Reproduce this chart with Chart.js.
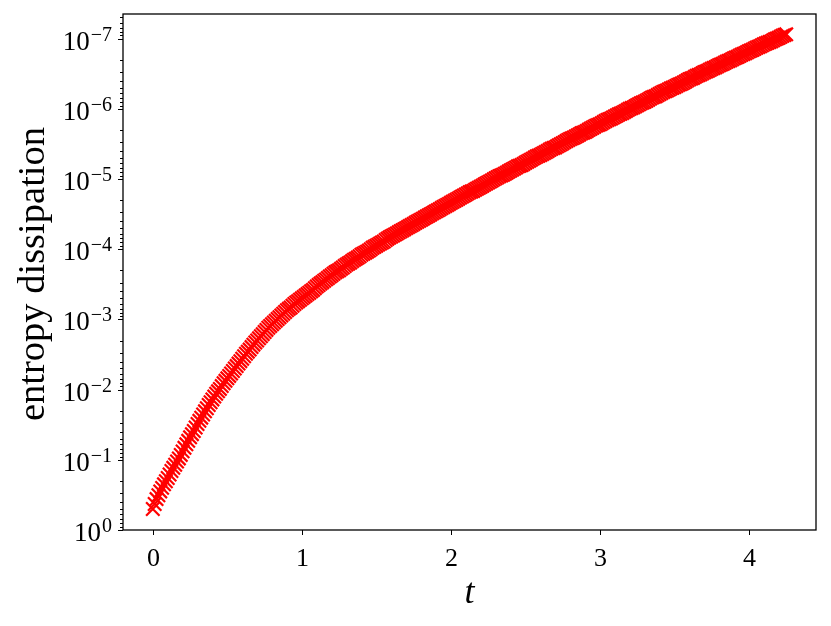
<!DOCTYPE html>
<html>
<head>
<meta charset="utf-8">
<script src="https://cdn.jsdelivr.net/npm/chart.js@4"></script>
<style>
  html, body { margin: 0; padding: 0; background: #fff; }
  #wrap { width: 831px; height: 626px; }
</style>
</head>
<body>
<div id="wrap"><canvas id="chart"></canvas></div>
<script>
// time values
const times = [
  0, 0.0125, 0.025, 0.0375, 0.05, 0.0625, 0.075, 0.0875, 0.1, 0.1125, 0.125, 0.1375, 0.15, 0.1625, 0.175, 0.1875,
  0.2, 0.2125, 0.225, 0.2375, 0.25, 0.2625, 0.275, 0.2875, 0.3, 0.3125, 0.325, 0.3375, 0.35, 0.3625, 0.375, 0.3875,
  0.4, 0.4125, 0.425, 0.4375, 0.45, 0.4625, 0.475, 0.4875, 0.5, 0.5125, 0.525, 0.5375, 0.55, 0.5625, 0.575, 0.5875,
  0.6, 0.6125, 0.625, 0.6375, 0.65, 0.6625, 0.675, 0.6875, 0.7, 0.7125, 0.725, 0.7375, 0.75, 0.7625, 0.775, 0.7875,
  0.8, 0.8125, 0.825, 0.8375, 0.85, 0.8625, 0.875, 0.8875, 0.9, 0.9125, 0.925, 0.9375, 0.95, 0.9625, 0.975, 0.9875,
  1, 1.0125, 1.025, 1.0375, 1.05, 1.0625, 1.075, 1.0875, 1.1, 1.1125, 1.125, 1.1375, 1.15, 1.1625, 1.175, 1.1875,
  1.2, 1.2125, 1.225, 1.2375, 1.25, 1.2625, 1.275, 1.2875, 1.3, 1.3125, 1.325, 1.3375, 1.35, 1.3625, 1.375, 1.3875,
  1.4, 1.4125, 1.425, 1.4375, 1.45, 1.4625, 1.475, 1.4875, 1.5, 1.5125, 1.525, 1.5375, 1.55, 1.5625, 1.575, 1.5875,
  1.6, 1.6125, 1.625, 1.6375, 1.65, 1.6625, 1.675, 1.6875, 1.7, 1.7125, 1.725, 1.7375, 1.75, 1.7625, 1.775, 1.7875,
  1.8, 1.8125, 1.825, 1.8375, 1.85, 1.8625, 1.875, 1.8875, 1.9, 1.9125, 1.925, 1.9375, 1.95, 1.9625, 1.975, 1.9875,
  2, 2.0125, 2.025, 2.0375, 2.05, 2.0625, 2.075, 2.0875, 2.1, 2.1125, 2.125, 2.1375, 2.15, 2.1625, 2.175, 2.1875,
  2.2, 2.2125, 2.225, 2.2375, 2.25, 2.2625, 2.275, 2.2875, 2.3, 2.3125, 2.325, 2.3375, 2.35, 2.3625, 2.375, 2.3875,
  2.4, 2.4125, 2.425, 2.4375, 2.45, 2.4625, 2.475, 2.4875, 2.5, 2.5125, 2.525, 2.5375, 2.55, 2.5625, 2.575, 2.5875,
  2.6, 2.6125, 2.625, 2.6375, 2.65, 2.6625, 2.675, 2.6875, 2.7, 2.7125, 2.725, 2.7375, 2.75, 2.7625, 2.775, 2.7875,
  2.8, 2.8125, 2.825, 2.8375, 2.85, 2.8625, 2.875, 2.8875, 2.9, 2.9125, 2.925, 2.9375, 2.95, 2.9625, 2.975, 2.9875,
  3, 3.0125, 3.025, 3.0375, 3.05, 3.0625, 3.075, 3.0875, 3.1, 3.1125, 3.125, 3.1375, 3.15, 3.1625, 3.175, 3.1875,
  3.2, 3.2125, 3.225, 3.2375, 3.25, 3.2625, 3.275, 3.2875, 3.3, 3.3125, 3.325, 3.3375, 3.35, 3.3625, 3.375, 3.3875,
  3.4, 3.4125, 3.425, 3.4375, 3.45, 3.4625, 3.475, 3.4875, 3.5, 3.5125, 3.525, 3.5375, 3.55, 3.5625, 3.575, 3.5875,
  3.6, 3.6125, 3.625, 3.6375, 3.65, 3.6625, 3.675, 3.6875, 3.7, 3.7125, 3.725, 3.7375, 3.75, 3.7625, 3.775, 3.7875,
  3.8, 3.8125, 3.825, 3.8375, 3.85, 3.8625, 3.875, 3.8875, 3.9, 3.9125, 3.925, 3.9375, 3.95, 3.9625, 3.975, 3.9875,
  4, 4.0125, 4.025, 4.0375, 4.05, 4.0625, 4.075, 4.0875, 4.1, 4.1125, 4.125, 4.1375, 4.15, 4.1625, 4.175, 4.1875,
  4.2, 4.2125, 4.225, 4.2375, 4.25
];

// log10 of the entropy dissipation
const log10Dissipation = [
  -0.30, -0.37, -0.44, -0.495, -0.55, -0.60, -0.65, -0.695, -0.74, -0.79, -0.84, -0.885, -0.93, -0.975, -1.02, -1.07,
  -1.12, -1.17, -1.22, -1.27, -1.32, -1.365, -1.41, -1.46, -1.51, -1.555, -1.60, -1.645, -1.69, -1.735, -1.78, -1.82,
  -1.86, -1.90, -1.94, -1.975, -2.01, -2.05, -2.09, -2.125, -2.16, -2.195, -2.23, -2.265, -2.30, -2.335, -2.37, -2.405,
  -2.44, -2.475, -2.51, -2.54, -2.57, -2.605, -2.64, -2.67, -2.70, -2.73, -2.76, -2.79, -2.82, -2.85, -2.88, -2.905,
  -2.93, -2.955, -2.98, -3.005, -3.03, -3.055, -3.08, -3.105, -3.13, -3.15, -3.17, -3.195, -3.22, -3.24, -3.26, -3.28,
  -3.30, -3.32, -3.34, -3.36, -3.38, -3.40, -3.42, -3.445, -3.47, -3.49, -3.51, -3.53, -3.55, -3.57, -3.59, -3.61,
  -3.63, -3.65, -3.67, -3.685, -3.70, -3.72, -3.74, -3.76, -3.78, -3.795, -3.81, -3.83, -3.85, -3.865, -3.88, -3.90,
  -3.92, -3.935, -3.95, -3.965, -3.98, -4.00, -4.02, -4.035, -4.05, -4.065, -4.08, -4.095, -4.11, -4.13, -4.15, -4.165,
  -4.18, -4.195, -4.21, -4.225, -4.24, -4.255, -4.27, -4.285, -4.30, -4.315, -4.33, -4.345, -4.36, -4.375, -4.39, -4.405,
  -4.42, -4.435, -4.45, -4.465, -4.48, -4.495, -4.51, -4.525, -4.54, -4.555, -4.57, -4.585, -4.60, -4.615, -4.63, -4.645,
  -4.66, -4.675, -4.69, -4.705, -4.72, -4.735, -4.75, -4.765, -4.78, -4.795, -4.81, -4.82, -4.83, -4.845, -4.86, -4.875,
  -4.89, -4.905, -4.92, -4.935, -4.95, -4.965, -4.98, -4.995, -5.01, -5.025, -5.04, -5.05, -5.06, -5.075, -5.09, -5.105,
  -5.12, -5.135, -5.15, -5.165, -5.18, -5.19, -5.20, -5.215, -5.23, -5.245, -5.26, -5.275, -5.29, -5.305, -5.32, -5.33,
  -5.34, -5.355, -5.37, -5.385, -5.40, -5.415, -5.43, -5.44, -5.45, -5.465, -5.48, -5.495, -5.51, -5.525, -5.54, -5.555,
  -5.57, -5.58, -5.59, -5.605, -5.62, -5.635, -5.65, -5.66, -5.67, -5.685, -5.70, -5.715, -5.73, -5.745, -5.76, -5.77,
  -5.78, -5.795, -5.81, -5.825, -5.84, -5.85, -5.86, -5.875, -5.89, -5.905, -5.92, -5.93, -5.94, -5.955, -5.97, -5.985,
  -6.00, -6.01, -6.02, -6.035, -6.05, -6.065, -6.08, -6.09, -6.10, -6.115, -6.13, -6.145, -6.16, -6.17, -6.18, -6.195,
  -6.21, -6.225, -6.24, -6.25, -6.26, -6.275, -6.29, -6.30, -6.31, -6.325, -6.34, -6.35, -6.36, -6.375, -6.39, -6.405,
  -6.42, -6.43, -6.44, -6.455, -6.47, -6.48, -6.49, -6.505, -6.52, -6.53, -6.54, -6.555, -6.57, -6.58, -6.59, -6.605,
  -6.62, -6.63, -6.64, -6.655, -6.67, -6.68, -6.69, -6.705, -6.72, -6.73, -6.74, -6.755, -6.77, -6.78, -6.79, -6.805,
  -6.82, -6.83, -6.84, -6.855, -6.87, -6.88, -6.89, -6.905, -6.92, -6.93, -6.94, -6.95, -6.96, -6.975, -6.99, -7.00,
  -7.01, -7.025, -7.04, -7.05, -7.06
];

const xTicks = [0, 1, 2, 3, 4];
const yExponents = [0, -1, -2, -3, -4, -5, -6, -7];

const points = times.map((t, i) => ({ x: t, y: Math.pow(10, log10Dissipation[i]) }));

const SERIF = '"Liberation Serif", "DejaVu Serif", serif';

// axes, ticks and labels drawn by hand, matplotlib style
const axesPlugin = {
  id: 'mplAxes',
  afterDraw(chart) {
    const ctx = chart.ctx;
    const a = chart.chartArea;
    const xs = chart.scales.x, ys = chart.scales.y;
    ctx.save();
    ctx.strokeStyle = '#000';
    ctx.fillStyle = '#000';

    // frame
    ctx.lineWidth = 1.3;
    ctx.strokeRect(a.left, a.top, a.right - a.left, a.bottom - a.top);

    // x ticks
    ctx.lineWidth = 1;
    ctx.font = '26px ' + SERIF;
    ctx.textAlign = 'center';
    ctx.textBaseline = 'alphabetic';
    xTicks.forEach(v => {
      const px = Math.round(xs.getPixelForValue(v)) + 0.5;
      ctx.beginPath();
      ctx.moveTo(px, a.bottom);
      ctx.lineTo(px, a.bottom + 5);
      ctx.stroke();
      ctx.fillText(String(v), px, a.bottom + 36);
    });

    // y minor ticks
    for (let n = -8; n <= 0; n++) {
      for (let k = 2; k <= 9; k++) {
        const v = k * Math.pow(10, n);
        if (v < ys.min || v > ys.max) continue;
        const py = Math.round(ys.getPixelForValue(v)) + 0.5;
        ctx.beginPath();
        ctx.moveTo(a.left, py);
        ctx.lineTo(a.left - 3, py);
        ctx.stroke();
      }
    }

    // y major ticks + labels
    yExponents.forEach(e => {
      const py = Math.round(ys.getPixelForValue(Math.pow(10, e))) + 0.5;
      ctx.beginPath();
      ctx.moveTo(a.left, py);
      ctx.lineTo(a.left - 5, py);
      ctx.stroke();
      const base = '10';
      const sup = e === 0 ? '0' : '\u2212' + Math.abs(e);
      ctx.font = '27px ' + SERIF;
      const w1 = ctx.measureText(base).width;
      ctx.font = '20px ' + SERIF;
      const w2 = ctx.measureText(sup).width;
      const x0 = 111 - w1 - w2;
      ctx.textAlign = 'left';
      ctx.font = '27px ' + SERIF;
      ctx.fillText(base, x0, py + 10);
      ctx.font = '20px ' + SERIF;
      ctx.fillText(sup, x0 + w1 + 1, py + 1);
    });

    // axis titles
    ctx.textAlign = 'center';
    ctx.font = 'italic 36px ' + SERIF;
    ctx.fillText('t', (a.left + a.right) / 2, 603);

    ctx.save();
    let size = 30;
    ctx.font = size + 'px ' + SERIF;
    const w = ctx.measureText('entropy dissipation').width;
    size = size * 294 / w;
    ctx.font = size.toFixed(1) + 'px ' + SERIF;
    ctx.translate(44, 274);
    ctx.rotate(-Math.PI / 2);
    ctx.fillText('entropy dissipation', 0, 0);
    ctx.restore();

    ctx.restore();
  }
};

new Chart(document.getElementById('chart'), {
  type: 'scatter',
  data: {
    datasets: [{
      label: 'entropy dissipation',
      data: points,
      pointStyle: 'crossRot',
      pointRadius: 9.5,
      pointHoverRadius: 9.5,
      borderColor: '#ff0000',
      backgroundColor: '#ff0000',
      pointBorderWidth: 2.2,
      showLine: false
    }]
  },
  options: {
    responsive: true,
    maintainAspectRatio: false,
    animation: false,
    devicePixelRatio: 1,
    layout: { padding: { left: 123, top: 14, right: 15, bottom: 96 } },
    plugins: {
      legend: { display: false },
      tooltip: { enabled: false }
    },
    scales: {
      x: { type: 'linear', min: -0.2, max: 4.45, display: false },
      y: { type: 'logarithmic', reverse: true, min: Math.pow(10, -7.35), max: 1, display: false }
    }
  },
  plugins: [axesPlugin]
});
</script>
</body>
</html>
